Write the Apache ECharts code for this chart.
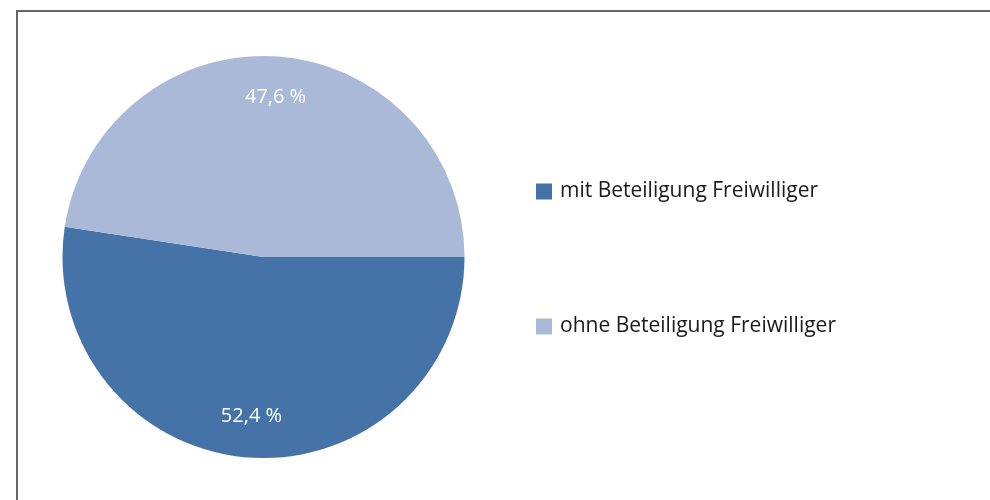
<!DOCTYPE html>
<html>
<head>
<meta charset="utf-8">
<script src="https://cdn.jsdelivr.net/npm/echarts@6/dist/echarts.min.js"></script>
<style>
  html, body { margin: 0; padding: 0; background: #fff; }
  #chart { width: 990px; height: 500px; }
</style>
</head>
<body>
<div id="chart"></div>
<script>
const categories = ['mit Beteiligung Freiwilliger', 'ohne Beteiligung Freiwilliger']
const values = [52.4, 47.6]
const colors = ['#4573a8', '#aab9d7']

const pieData = categories.map((name, i) => ({
  name,
  value: values[i],
  itemStyle: { color: colors[i] }
}))

const fmt = (v) => v.toFixed(1).replace('.', ',') + ' %'

const chart = echarts.init(document.getElementById('chart'))
chart.setOption({
  animation: false,
  textStyle: { fontFamily: 'Open Sans' },
  graphic: [
    {
      type: 'rect',
      shape: { x: 17, y: 11, width: 1000, height: 600 },
      style: { fill: 'none', stroke: '#666', lineWidth: 2 }
    }
  ],
  legend: {
    orient: 'vertical',
    left: 531,
    top: 176,
    padding: 5,
    itemWidth: 16,
    itemHeight: 16,
    itemGap: 114,
    icon: 'rect',
    textStyle: { fontSize: 21, color: '#1a1a1a', fontFamily: 'Open Sans', padding: [0, 0, 0, 3] },
    data: categories
  },
  series: [
    {
      type: 'pie',
      center: [263.5, 257],
      radius: [0, 201],
      startAngle: 0,
      clockwise: true,
      label: { show: false },
      labelLine: { show: false },
      itemStyle: { borderWidth: 0 },
      data: pieData
    },
    {
      // transparent ring used only to place the value labels
      type: 'pie',
      silent: true,
      center: [263.5, 257],
      radius: [113, 201],
      startAngle: 0,
      clockwise: true,
      itemStyle: { color: 'transparent', borderWidth: 0 },
      label: {
        show: true,
        position: 'inside',
        color: '#fff',
        fontSize: 20,
        fontFamily: 'Open Sans',
        formatter: (p) => fmt(p.value)
      },
      labelLine: { show: false },
      data: categories.map((name, i) => ({ name, value: values[i] }))
    }
  ]
})
</script>
</body>
</html>
